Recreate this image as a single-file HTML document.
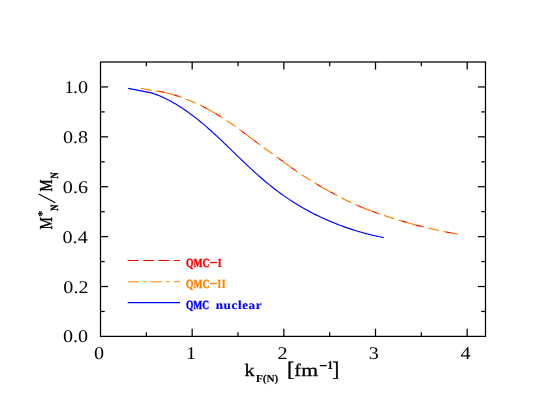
<!DOCTYPE html>
<html><head><meta charset="utf-8"><title>QMC effective mass</title>
<style>
html,body{margin:0;padding:0;background:#fff;}
svg{display:block;will-change:transform;}
text{text-rendering:geometricPrecision;}
</style></head>
<body>
<svg width="538" height="416" viewBox="0 0 538 416">
<rect x="0" y="0" width="538" height="416" fill="#fff"/>
<g stroke="#000" stroke-width="1.25" fill="none" stroke-linecap="butt">
<rect x="100.5" y="62.0" width="385.00" height="274.40"/>
<line x1="146.33" y1="336.4" x2="146.33" y2="332.20"/>
<line x1="146.33" y1="62.0" x2="146.33" y2="66.20"/>
<line x1="192.17" y1="336.4" x2="192.17" y2="328.80"/>
<line x1="192.17" y1="62.0" x2="192.17" y2="69.60"/>
<line x1="238.00" y1="336.4" x2="238.00" y2="332.20"/>
<line x1="238.00" y1="62.0" x2="238.00" y2="66.20"/>
<line x1="283.83" y1="336.4" x2="283.83" y2="328.80"/>
<line x1="283.83" y1="62.0" x2="283.83" y2="69.60"/>
<line x1="329.67" y1="336.4" x2="329.67" y2="332.20"/>
<line x1="329.67" y1="62.0" x2="329.67" y2="66.20"/>
<line x1="375.50" y1="336.4" x2="375.50" y2="328.80"/>
<line x1="375.50" y1="62.0" x2="375.50" y2="69.60"/>
<line x1="421.33" y1="336.4" x2="421.33" y2="332.20"/>
<line x1="421.33" y1="62.0" x2="421.33" y2="66.20"/>
<line x1="467.17" y1="336.4" x2="467.17" y2="328.80"/>
<line x1="467.17" y1="62.0" x2="467.17" y2="69.60"/>
<line x1="100.5" y1="311.45" x2="104.70" y2="311.45"/>
<line x1="485.5" y1="311.45" x2="481.30" y2="311.45"/>
<line x1="100.5" y1="286.51" x2="108.10" y2="286.51"/>
<line x1="485.5" y1="286.51" x2="477.90" y2="286.51"/>
<line x1="100.5" y1="261.56" x2="104.70" y2="261.56"/>
<line x1="485.5" y1="261.56" x2="481.30" y2="261.56"/>
<line x1="100.5" y1="236.62" x2="108.10" y2="236.62"/>
<line x1="485.5" y1="236.62" x2="477.90" y2="236.62"/>
<line x1="100.5" y1="211.67" x2="104.70" y2="211.67"/>
<line x1="485.5" y1="211.67" x2="481.30" y2="211.67"/>
<line x1="100.5" y1="186.73" x2="108.10" y2="186.73"/>
<line x1="485.5" y1="186.73" x2="477.90" y2="186.73"/>
<line x1="100.5" y1="161.78" x2="104.70" y2="161.78"/>
<line x1="485.5" y1="161.78" x2="481.30" y2="161.78"/>
<line x1="100.5" y1="136.84" x2="108.10" y2="136.84"/>
<line x1="485.5" y1="136.84" x2="477.90" y2="136.84"/>
<line x1="100.5" y1="111.89" x2="104.70" y2="111.89"/>
<line x1="485.5" y1="111.89" x2="481.30" y2="111.89"/>
<line x1="100.5" y1="86.95" x2="108.10" y2="86.95"/>
<line x1="485.5" y1="86.95" x2="477.90" y2="86.95"/>
</g>
<!-- curves -->
<g fill="none" stroke-width="1.15" stroke-linejoin="round">
<polyline points="140.95,88.35 151.30,90.38 153.23,90.59 155.15,90.84 157.08,91.12 159.01,91.43 160.94,91.77 162.86,92.14 164.79,92.55 166.72,92.98 168.64,93.45 170.57,93.95 172.50,94.47 174.42,95.03 176.35,95.62 178.28,96.24 180.21,96.88 182.13,97.56 184.06,98.26 185.99,98.99 187.91,99.75 189.84,100.54 191.77,101.36 193.69,102.20 195.62,103.07 197.55,103.96 199.48,104.88 201.40,105.83 203.33,106.81 205.26,107.81 207.18,108.83 209.11,109.88 211.04,110.95 212.97,112.05 214.89,113.18 216.82,114.32 218.75,115.49 220.67,116.68 222.60,117.90 224.53,119.13 226.45,120.39 228.38,121.67 230.31,122.97 232.24,124.29 234.16,125.64 236.09,127.00 238.02,128.38 239.94,129.79 241.87,131.21 243.80,132.65 245.73,134.10 247.65,135.56 249.58,137.02 251.51,138.49 253.43,139.95 255.36,141.41 257.29,142.87 259.21,144.31 261.14,145.74 263.07,147.15 265.00,148.56 266.92,149.95 268.85,151.34 270.78,152.72 272.70,154.10 274.63,155.48 276.56,156.87 278.48,158.25 280.41,159.65 282.34,161.04 284.27,162.43 286.19,163.83 288.12,165.22 290.05,166.61 291.97,167.99 293.90,169.37 295.83,170.74 297.76,172.10 299.68,173.44 301.61,174.76 303.54,176.03 305.46,177.26 307.39,178.46 309.32,179.63 311.24,180.79 313.17,181.95 315.10,183.11 317.03,184.25 318.95,185.39 320.88,186.53 322.81,187.65 324.73,188.77 326.66,189.87 328.59,190.97 330.52,192.05 332.44,193.12 334.37,194.17 336.30,195.21 338.22,196.24 340.15,197.25 342.08,198.24 344.00,199.21 345.93,200.17 347.86,201.11 349.79,202.02 351.71,202.91 353.64,203.79 355.57,204.64 357.49,205.47 359.42,206.29 361.35,207.08 363.27,207.86 365.20,208.63 367.13,209.37 369.06,210.11 370.98,210.83 372.91,211.54 374.84,212.23 376.76,212.92 378.69,213.60 380.62,214.26 382.55,214.92 384.47,215.57 386.40,216.22 388.33,216.85 390.25,217.47 392.18,218.09 394.11,218.70 396.03,219.30 397.96,219.89 399.89,220.47 401.82,221.05 403.74,221.61 405.67,222.17 407.60,222.72 409.52,223.26 411.45,223.80 413.38,224.32 415.31,224.84 417.23,225.34 419.16,225.84 421.09,226.34 423.01,226.82 424.94,227.29 426.87,227.76 428.79,228.22 430.72,228.67 432.65,229.11 434.58,229.54 436.50,229.97 438.43,230.39 440.36,230.80 442.28,231.20 444.21,231.59 446.14,231.98 448.06,232.35 449.99,232.72 451.92,233.08 453.85,233.43 455.77,233.78 457.70,234.11" stroke="#ff0000" stroke-dasharray="0 18.1 5.4 10.1 5.3 7.3"/>
<polyline points="140.95,88.35 151.30,90.38 153.23,90.59 155.15,90.84 157.08,91.12 159.01,91.43 160.94,91.77 162.86,92.14 164.79,92.55 166.72,92.98 168.64,93.45 170.57,93.95 172.50,94.47 174.42,95.03 176.35,95.62 178.28,96.24 180.21,96.88 182.13,97.56 184.06,98.26 185.99,98.99 187.91,99.75 189.84,100.54 191.77,101.36 193.69,102.20 195.62,103.07 197.55,103.96 199.48,104.88 201.40,105.83 203.33,106.81 205.26,107.81 207.18,108.83 209.11,109.88 211.04,110.95 212.97,112.05 214.89,113.18 216.82,114.32 218.75,115.49 220.67,116.68 222.60,117.90 224.53,119.13 226.45,120.39 228.38,121.67 230.31,122.97 232.24,124.29 234.16,125.64 236.09,127.00 238.02,128.38 239.94,129.79 241.87,131.21 243.80,132.65 245.73,134.10 247.65,135.56 249.58,137.02 251.51,138.49 253.43,139.95 255.36,141.41 257.29,142.87 259.21,144.31 261.14,145.74 263.07,147.15 265.00,148.56 266.92,149.95 268.85,151.34 270.78,152.72 272.70,154.10 274.63,155.48 276.56,156.87 278.48,158.25 280.41,159.65 282.34,161.04 284.27,162.43 286.19,163.83 288.12,165.22 290.05,166.61 291.97,167.99 293.90,169.37 295.83,170.74 297.76,172.10 299.68,173.44 301.61,174.76 303.54,176.03 305.46,177.26 307.39,178.46 309.32,179.63 311.24,180.79 313.17,181.95 315.10,183.11 317.03,184.25 318.95,185.39 320.88,186.53 322.81,187.65 324.73,188.77 326.66,189.87 328.59,190.97 330.52,192.05 332.44,193.12 334.37,194.17 336.30,195.21 338.22,196.24 340.15,197.25 342.08,198.24 344.00,199.21 345.93,200.17 347.86,201.11 349.79,202.02 351.71,202.91 353.64,203.79 355.57,204.64 357.49,205.47 359.42,206.29 361.35,207.08 363.27,207.86 365.20,208.63 367.13,209.37 369.06,210.11 370.98,210.83 372.91,211.54 374.84,212.23 376.76,212.92 378.69,213.60 380.62,214.26 382.55,214.92 384.47,215.57 386.40,216.22 388.33,216.85 390.25,217.47 392.18,218.09 394.11,218.70 396.03,219.30 397.96,219.89 399.89,220.47 401.82,221.05 403.74,221.61 405.67,222.17 407.60,222.72 409.52,223.26 411.45,223.80 413.38,224.32 415.31,224.84 417.23,225.34 419.16,225.84 421.09,226.34 423.01,226.82 424.94,227.29 426.87,227.76 428.79,228.22 430.72,228.67 432.65,229.11 434.58,229.54 436.50,229.97 438.43,230.39 440.36,230.80 442.28,231.20 444.21,231.59 446.14,231.98 448.06,232.35 449.99,232.72 451.92,233.08 453.85,233.43 455.77,233.78 457.70,234.11" stroke="#ff8000" stroke-dasharray="10.9 4.5 3.1 4.6"/>
<polyline points="128.20,88.32 151.30,92.86 152.76,93.33 154.22,93.83 155.69,94.35 157.15,94.91 158.61,95.48 160.07,96.09 161.54,96.72 163.00,97.37 164.46,98.05 165.92,98.76 167.38,99.48 168.85,100.24 170.31,101.01 171.77,101.81 173.23,102.64 174.70,103.48 176.16,104.35 177.62,105.24 179.08,106.15 180.55,107.09 182.01,108.04 183.47,109.02 184.93,110.01 186.39,111.03 187.86,112.06 189.32,113.12 190.78,114.19 192.24,115.28 193.71,116.40 195.17,117.53 196.63,118.67 198.09,119.84 199.55,121.02 201.02,122.22 202.48,123.43 203.94,124.66 205.40,125.91 206.87,127.17 208.33,128.45 209.79,129.74 211.25,131.04 212.72,132.37 214.18,133.70 215.64,135.04 217.10,136.40 218.56,137.77 220.03,139.14 221.49,140.53 222.95,141.92 224.41,143.31 225.88,144.72 227.34,146.13 228.80,147.54 230.26,148.95 231.72,150.37 233.19,151.79 234.65,153.20 236.11,154.62 237.57,156.04 239.04,157.45 240.50,158.86 241.96,160.26 243.42,161.66 244.88,163.05 246.35,164.44 247.81,165.82 249.27,167.19 250.73,168.55 252.20,169.90 253.66,171.24 255.12,172.56 256.58,173.88 258.05,175.18 259.51,176.48 260.97,177.75 262.43,179.01 263.89,180.26 265.36,181.50 266.82,182.71 268.28,183.92 269.74,185.10 271.21,186.28 272.67,187.43 274.13,188.57 275.59,189.70 277.05,190.81 278.52,191.91 279.98,192.99 281.44,194.05 282.90,195.10 284.37,196.14 285.83,197.15 287.29,198.15 288.75,199.14 290.22,200.11 291.68,201.06 293.14,202.00 294.60,202.93 296.06,203.83 297.53,204.73 298.99,205.60 300.45,206.47 301.91,207.32 303.38,208.16 304.84,208.98 306.30,209.79 307.76,210.58 309.22,211.37 310.69,212.14 312.15,212.90 313.61,213.65 315.07,214.38 316.54,215.11 318.00,215.82 319.46,216.53 320.92,217.22 322.38,217.90 323.85,218.57 325.31,219.23 326.77,219.88 328.23,220.52 329.70,221.15 331.16,221.76 332.62,222.37 334.08,222.97 335.55,223.56 337.01,224.13 338.47,224.70 339.93,225.26 341.39,225.80 342.86,226.34 344.32,226.87 345.78,227.39 347.24,227.89 348.71,228.39 350.17,228.88 351.63,229.36 353.09,229.83 354.55,230.29 356.02,230.74 357.48,231.18 358.94,231.61 360.40,232.04 361.87,232.45 363.33,232.86 364.79,233.25 366.25,233.64 367.72,234.02 369.18,234.39 370.64,234.75 372.10,235.11 373.56,235.45 375.03,235.79 376.49,236.12 377.95,236.44 379.41,236.75 380.88,237.05 382.34,237.35 383.80,237.63" stroke="#0000ff"/>
</g>
<!-- legend -->
<g fill="none" stroke-width="1.15">
<line x1="127.7" y1="260.5" x2="180.0" y2="260.5" stroke="#ff0000" stroke-dasharray="10.9 4.5"/>
<line x1="127.7" y1="281.7" x2="180.0" y2="281.7" stroke="#ff8000" stroke-dasharray="10.9 4.5 3.1 4.6"/>
<line x1="127.7" y1="302.6" x2="180.0" y2="302.6" stroke="#0000ff"/>
</g>
<!-- text -->
<text transform="translate(94.02,359.10) scale(1.1250,1)" style="font-family:'Liberation Serif';font-weight:normal;font-size:17.9px;fill:#000;">0</text>
<text transform="translate(185.89,359.10) scale(1.1250,1)" style="font-family:'Liberation Serif';font-weight:normal;font-size:17.9px;fill:#000;">1</text>
<text transform="translate(277.58,359.10) scale(1.1250,1)" style="font-family:'Liberation Serif';font-weight:normal;font-size:17.9px;fill:#000;">2</text>
<text transform="translate(368.83,359.10) scale(1.1250,1)" style="font-family:'Liberation Serif';font-weight:normal;font-size:17.9px;fill:#000;">3</text>
<text transform="translate(460.40,359.10) scale(1.1250,1)" style="font-family:'Liberation Serif';font-weight:normal;font-size:17.9px;fill:#000;">4</text>
<text transform="translate(63.00,342.40) scale(1.1250,1)" style="font-family:'Liberation Serif';font-weight:normal;font-size:17.9px;fill:#000;">0.0</text>
<text transform="translate(63.34,292.51) scale(1.1250,1)" style="font-family:'Liberation Serif';font-weight:normal;font-size:17.9px;fill:#000;">0.2</text>
<text transform="translate(62.54,242.62) scale(1.1250,1)" style="font-family:'Liberation Serif';font-weight:normal;font-size:17.9px;fill:#000;">0.4</text>
<text transform="translate(62.83,192.73) scale(1.1250,1)" style="font-family:'Liberation Serif';font-weight:normal;font-size:17.9px;fill:#000;">0.6</text>
<text transform="translate(63.00,142.84) scale(1.1250,1)" style="font-family:'Liberation Serif';font-weight:normal;font-size:17.9px;fill:#000;">0.8</text>
<text transform="translate(73.06,92.95) scale(1.1250,1)" style="font-family:'Liberation Serif';font-weight:normal;font-size:17.9px;fill:#000;">.0</text>
<text transform="translate(64.38,92.95) scale(1.0315,1)" style="font-family:'Liberation Serif';font-weight:normal;font-size:17.9px;fill:#000;">1</text>
<text transform="translate(186.03,266.70) scale(0.7756,1)" style="font-family:'Liberation Serif';font-weight:bold;font-size:12.4px;fill:#ff0000;stroke:#ff0000;stroke-width:0.4;">QMC</text>
<rect x="209.8" y="261.95" width="7.3" height="1.25" fill="#ff0000"/>
<text transform="translate(217.53,266.70) scale(0.8897,1)" style="font-family:'Liberation Serif';font-weight:bold;font-size:12.4px;fill:#ff0000;stroke:#ff0000;stroke-width:0.1;">I</text>
<text transform="translate(186.03,287.60) scale(0.7756,1)" style="font-family:'Liberation Serif';font-weight:bold;font-size:12.4px;fill:#ff8000;stroke:#ff8000;stroke-width:0.4;">QMC</text>
<rect x="209.8" y="282.85" width="7.3" height="1.25" fill="#ff8000"/>
<text transform="translate(217.34,287.60) scale(0.8521,1)" style="font-family:'Liberation Serif';font-weight:bold;font-size:12.4px;fill:#ff8000;stroke:#ff8000;stroke-width:0.1;">I</text>
<text transform="translate(221.52,287.60) scale(0.9022,1)" style="font-family:'Liberation Serif';font-weight:bold;font-size:12.4px;fill:#ff8000;stroke:#ff8000;stroke-width:0.1;">I</text>
<text transform="translate(185.94,308.60) scale(0.7651,1)" style="font-family:'Liberation Serif';font-weight:bold;font-size:12.4px;fill:#0000ff;stroke:#0000ff;stroke-width:0.4;">QMC</text>
<text transform="translate(215.65,308.50) scale(1.0900,1)" style="font-family:'Liberation Serif';font-weight:bold;font-size:12.0px;fill:#0000ff;letter-spacing:0.580px;stroke:#0000ff;stroke-width:0.15;">nuclear</text>
<text transform="translate(244.62,376.00) scale(1.1459,1)" style="font-family:'Liberation Serif';font-weight:normal;font-size:17.6px;fill:#000;stroke:#000;stroke-width:0.3;">k</text>
<text transform="translate(255.91,382.00) scale(1.0465,1)" style="font-family:'Liberation Serif';font-weight:bold;font-size:10.7px;fill:#000;stroke:#000;stroke-width:0.12;">F(N)</text>
<text transform="translate(286.97,376.10) scale(1.0580,1)" style="font-family:'Liberation Serif';font-weight:normal;font-size:20.8px;fill:#000;stroke:#000;stroke-width:0.35;">[</text>
<text transform="translate(294.62,376.00) scale(1.0715,1)" style="font-family:'Liberation Serif';font-weight:normal;font-size:17.6px;fill:#000;stroke:#000;stroke-width:0.3;">f</text>
<text transform="translate(301.34,376.00) scale(1.2342,1)" style="font-family:'Liberation Serif';font-weight:normal;font-size:17.6px;fill:#000;stroke:#000;stroke-width:0.3;">m</text>
<rect x="319.8" y="364.95" width="7.0" height="1.3" fill="#000"/>
<text transform="translate(326.90,369.00) scale(1.0588,1)" style="font-family:'Liberation Serif';font-weight:bold;font-size:11.8px;fill:#000;">1</text>
<text transform="translate(332.28,376.10) scale(1.0256,1)" style="font-family:'Liberation Serif';font-weight:normal;font-size:20.8px;fill:#000;stroke:#000;stroke-width:0.35;">]</text>
<text transform="translate(52.10,229.45) rotate(-90) scale(0.7669,1)" style="font-family:'Liberation Serif';font-weight:normal;font-size:18.2px;fill:#000;stroke:#000;stroke-width:0.45;">M</text>
<text transform="translate(45.73,216.66) rotate(-90)" style="font-family:'Liberation Serif';font-size:12.0px;fill:#000;stroke:#000;stroke-width:0.3">*</text>
<text transform="translate(58.40,210.66) rotate(-90) scale(0.7779,1)" style="font-family:'Liberation Serif';font-weight:bold;font-size:10.9px;fill:#000;stroke:#000;stroke-width:0.45;">N</text>
<line x1="38.7" y1="193.9" x2="55.3" y2="202.8" stroke="#000" stroke-width="1.1"/>
<text transform="translate(52.20,191.59) rotate(-90) scale(0.7471,1)" style="font-family:'Liberation Serif';font-weight:normal;font-size:18.2px;fill:#000;stroke:#000;stroke-width:0.45;">M</text>
<text transform="translate(58.45,178.47) rotate(-90) scale(0.7978,1)" style="font-family:'Liberation Serif';font-weight:bold;font-size:10.9px;fill:#000;stroke:#000;stroke-width:0.45;">N</text>
</svg>
</body></html>
